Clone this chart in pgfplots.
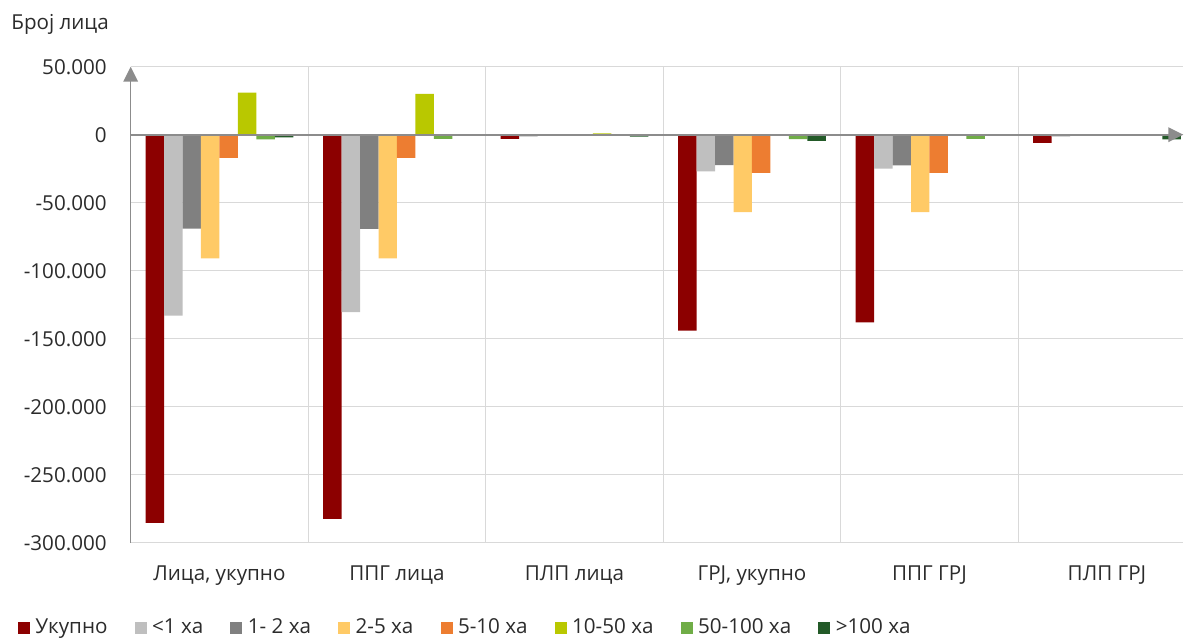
\documentclass[border=0pt]{standalone}
\usepackage{pgfplots}
\pgfplotsset{compat=1.18}
\usepackage{pgfplotstable}
\usepackage{fontspec}
\setmainfont{Open Sans}
\usetikzlibrary{arrows.meta}
\definecolor{cUk}{HTML}{8C0000}
\definecolor{cLt}{HTML}{BFBFBF}
\definecolor{cGr}{HTML}{808080}
\definecolor{cYe}{HTML}{FFCA66}
\definecolor{cOr}{HTML}{ED7D31}
\definecolor{cOl}{HTML}{B9C800}
\definecolor{cGn}{HTML}{70AD47}
\definecolor{cDg}{HTML}{235A28}
\definecolor{gridc}{HTML}{D9D9D9}
\definecolor{axc}{HTML}{8C8C8C}
\definecolor{txt}{HTML}{2B2B2B}
\pgfplotstableread{
x uk lt1 g12 g25 g510 g1050 g50100 g100
0 -285500 -133000 -69000 -91000 -17000 31000 -3500 -2000
1 -282500 -130500 -69300 -91000 -17000 30000 -3000 -500
2 -3000 -1500 0 0 0 1000 0 -1500
3 -144000 -27000 -22300 -57000 -28000 0 -3300 -4500
4 -138000 -25000 -22500 -57000 -28000 0 -3000 -500
5 -6000 -1500 0 0 0 0 -300 -3500
}\data
\begin{document}
\begin{tikzpicture}[font=\fontsize{10.3}{12.4}\selectfont, text=txt]
\useasboundingbox (0,0) rectangle (592pt,319.5pt);
\node[anchor=base west, inner sep=0pt] at (5.5pt,304.85pt) {Број лица};
\begin{axis}[
 at={(65.35pt,48.15pt)}, anchor=south west,
 scale only axis, width=526.3pt, height=238pt,
 xmin=-0.5, xmax=5.43, ymin=-300000, ymax=50000,
 ybar=0pt, bar width=9.23pt,
 axis line style={draw=none},
 xtick={0,...,5},
 xticklabels={{Лица, укупно},{ППГ лица},{ПЛП лица},{ГРЈ, укупно},{ППГ ГРЈ},{ПЛП ГРЈ}},
 minor xtick={0.5,1.5,2.5,3.5,4.5},
 xminorgrids=true, ymajorgrids=true, xmajorgrids=false,
 grid style={draw=gridc, line width=0.6pt},
 minor grid style={draw=gridc, line width=0.6pt},
 ytick={-300000,-250000,...,50000},
 major tick length=0pt, minor tick length=0pt,
 tick style={draw=none},
 scaled y ticks=false,
 y tick label style={/pgf/number format/fixed, /pgf/number format/1000 sep={.}, /pgf/number format/assume math mode=true},
 yticklabel style={anchor=east, inner sep=0pt, xshift=-11.85pt},
 xticklabel style={anchor=base, inner sep=0pt, yshift=-19pt},
 clip=false,
 legend columns=8,
 legend style={at={(-0.1071,-0.1792)}, anchor=west, draw=none, fill=none, inner sep=0pt, outer sep=0pt,
   nodes={inner sep=0pt},
   /tikz/every odd column/.append style={column sep=2.7pt},
   /tikz/every even column/.append style={column sep=13.6pt}},
 legend image code/.code={\fill[#1,draw=none] (0pt,-3pt) rectangle (6pt,3pt);},
]
\addplot[fill=cUk, draw=none] table[x=x,y=uk]{\data};
\addplot[fill=cLt, draw=none] table[x=x,y=lt1]{\data};
\addplot[fill=cGr, draw=none] table[x=x,y=g12]{\data};
\addplot[fill=cYe, draw=none] table[x=x,y=g25]{\data};
\addplot[fill=cOr, draw=none] table[x=x,y=g510]{\data};
\addplot[fill=cOl, draw=none] table[x=x,y=g1050]{\data};
\addplot[fill=cGn, draw=none] table[x=x,y=g50100]{\data};
\addplot[fill=cDg, draw=none] table[x=x,y=g100]{\data};
\legend{Укупно, <1 ха, 1- 2 ха, 2-5 ха, 5-10 ха, 10-50 ха, 50-100 ха, >100 ха}
\draw[axc, line width=0.8pt, -{Triangle[length=7.5pt,width=7.3pt]}] (axis cs:-0.5,-300000) -- (axis cs:-0.5,50000);
\draw[axc, line width=0.8pt, -{Triangle[length=7.5pt,width=7.3pt]}] (axis cs:-0.5,0) -- (axis cs:5.43,0);
\end{axis}
\end{tikzpicture}
\end{document}
